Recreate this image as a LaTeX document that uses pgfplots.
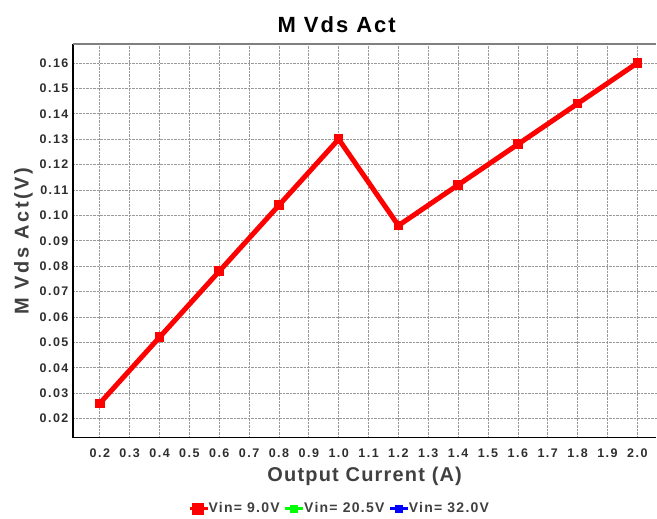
\documentclass[border=0pt]{standalone}
\usepackage{pgfplots}
\pgfplotsset{compat=1.18}
\usepackage{fontspec}
\setmainfont{Liberation Sans}
\newfontfamily\tickfont[LetterSpace=12]{Liberation Sans}
\newfontfamily\xlabfont[LetterSpace=6]{Liberation Sans}
\newfontfamily\ylabfont[LetterSpace=13]{Liberation Sans}
\newfontfamily\titlefont[LetterSpace=9]{Liberation Sans}
\newfontfamily\legfont[LetterSpace=9]{Liberation Sans}
\definecolor{tickgray}{HTML}{2E2E2E}
\definecolor{labgray}{HTML}{404040}
\begin{document}
\begin{tikzpicture}[x=1pt,y=1pt]
\begin{axis}[
  at={(0,0)}, anchor=south west,
  scale only axis,
  width=584pt, height=394pt,
  xmin=0.11, xmax=2.064,
  ymin=0.0125, ymax=0.1675,
  xtick={0.2,0.3,...,2.01},
  ytick={0.02,0.03,...,0.161},
  /pgf/number format/.cd, fixed, fixed zerofill, precision=1, assume math mode=true,
  /pgfplots/.cd,
  yticklabel style={/pgf/number format/precision=2, font=\tickfont\bfseries\fontsize{12.5}{12.5}\selectfont, text=tickgray, xshift=-1pt},
  xticklabel style={font=\tickfont\bfseries\fontsize{12.5}{12.5}\selectfont, text=tickgray, yshift=-8pt},
  scaled y ticks=false,
  major tick length=0pt,
  grid=major,
  grid style={densely dotted, gray!80, line width=0.7pt},
  axis line style={line width=1.2pt},
  axis x line*=bottom, axis y line*=left,
  xlabel={Output Current (A)},
  ylabel={M Vds Act(V)},
  xlabel style={font=\xlabfont\bfseries\fontsize{20}{20}\selectfont, text=labgray, yshift=-2pt},
  ylabel style={font=\ylabfont\bfseries\fontsize{20}{20}\selectfont, text=labgray, yshift=0pt},
  title={M Vds Act},
  title style={at={(0.452,1)}, font=\titlefont\bfseries\fontsize{22}{22}\selectfont, yshift=2pt},
  legend columns=3,
  legend style={at={(0.457,-0.155)}, anchor=north, draw=none, fill=none,
    font=\legfont\bfseries\fontsize{14}{14}\selectfont, text=labgray,
    /tikz/every even column/.append style={column sep=2pt},
    /tikz/every odd column/.append style={column sep=-3pt}},
  legend image code/.code={
    \draw[#1, line width=3.5pt] (0pt,0pt) -- (18pt,0pt);
    \fill[#1] (5pt,-3.5pt) rectangle (12pt,3.5pt);
  },
  clip=false,
]
\addplot[red, line width=5pt, mark=square*, mark size=4.3pt, mark options={line width=0pt}]
  coordinates {
  (0.2,0.026) (0.4,0.052) (0.6,0.078) (0.8,0.104) (1.0,0.130)
  (1.2,0.096) (1.4,0.112) (1.6,0.128) (1.8,0.144) (2.0,0.160)
  };
\addlegendentry{Vin= 9.0V}
\addlegendimage{green}
\addlegendentry{Vin= 20.5V}
\addlegendimage{blue}
\addlegendentry{Vin= 32.0V}
\draw[gray, line width=1.2pt] (rel axis cs:0,1) -- (rel axis cs:1,1);
\end{axis}
\path (-73pt,-75pt) rectangle ++(657pt,513pt);
\end{tikzpicture}
\end{document}
